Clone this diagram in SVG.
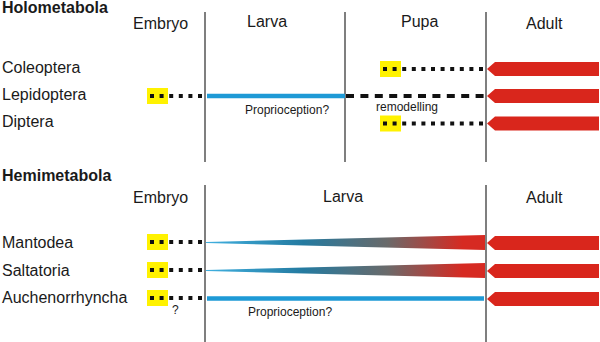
<svg xmlns="http://www.w3.org/2000/svg" width="600" height="342" viewBox="0 0 600 342">
<defs>
<style>
text{font-family:"Liberation Sans",Arial,sans-serif;fill:#1a1a1a}
.h{font-size:16px;font-weight:bold}
.t{font-size:16px}
.s{font-size:12px}
.div{stroke:#555;stroke-width:1.5}
.dot{stroke:#111;stroke-width:4;stroke-dasharray:4 5.6;fill:none}
.dash{stroke:#111;stroke-width:4;stroke-dasharray:8 6.4;fill:none}
.blue{stroke:#1e9ad6;stroke-width:4.5}
.box{fill:#fff200}
.arrow{fill:#d9261c}
</style>
<linearGradient id="wg" gradientUnits="userSpaceOnUse" x1="206" y1="0" x2="485" y2="0">
<stop offset="0" stop-color="#40b0e0"/>
<stop offset="0.35" stop-color="#247aa0"/>
<stop offset="0.65" stop-color="#6a6a6a"/>
<stop offset="0.92" stop-color="#d62a22"/>
</linearGradient>
</defs>
<rect width="600" height="342" fill="#fff"/>

<g id="headings">
<text class="h" x="2" y="13">Holometabola</text>
<text class="h" x="2" y="181">Hemimetabola</text>
<text class="t" x="133" y="29">Embryo</text>
<text class="t" x="247" y="27">Larva</text>
<text class="t" x="401" y="27">Pupa</text>
<text class="t" x="526" y="29">Adult</text>
<text class="t" x="133" y="203">Embryo</text>
<text class="t" x="323" y="202">Larva</text>
<text class="t" x="526" y="203">Adult</text>
</g>

<g id="dividers">
<line class="div" x1="205" y1="12" x2="205" y2="162"/>
<line class="div" x1="345" y1="12" x2="345" y2="162"/>
<line class="div" x1="486" y1="12" x2="486" y2="162"/>
<line class="div" x1="205" y1="185" x2="205" y2="342"/>
<line class="div" x1="486" y1="185" x2="486" y2="342"/>
</g>

<g id="coleoptera">
<text class="t" x="2" y="73">Coleoptera</text>
<rect class="box" x="380" y="61" width="21" height="16"/>
<polygon class="arrow" points="487,69 495,62 599,62 599,76 495,76"/>
</g>
<g id="lepidoptera">
<text class="t" x="2" y="100">Lepidoptera</text>
<rect class="box" x="147" y="88" width="21" height="16"/>
<polygon class="arrow" points="487,96 495,89 599,89 599,103 495,103"/>
<text class="s" x="245" y="114">Proprioception?</text>
<text class="s" x="376" y="111">remodelling</text>
</g>
<g id="diptera">
<text class="t" x="2" y="127">Diptera</text>
<rect class="box" x="380" y="115.5" width="21" height="16"/>
<polygon class="arrow" points="487,123.5 495,116.5 599,116.5 599,130.5 495,130.5"/>
</g>
<g id="mantodea">
<text class="t" x="2" y="248">Mantodea</text>
<rect class="box" x="147" y="234" width="21" height="16"/>
<polygon class="arrow" points="487,243 495,236 599,236 599,250 495,250"/>
</g>
<g id="saltatoria">
<text class="t" x="2" y="276">Saltatoria</text>
<rect class="box" x="147" y="262" width="21" height="16"/>
<polygon class="arrow" points="487,271 495,264 599,264 599,278 495,278"/>
</g>
<g id="auchenorrhyncha">
<text class="t" x="2" y="303">Auchenorrhyncha</text>
<rect class="box" x="147" y="290" width="21" height="16"/>
<polygon class="arrow" points="487,299 495,292 599,292 599,306 495,306"/>
<text class="s" x="172" y="314">?</text>
<text class="s" x="248" y="316">Proprioception?</text>
</g>

<g id="connectors">
<line class="dot" x1="383" y1="69" x2="484" y2="69"/>
<line class="dot" x1="150" y1="96" x2="204" y2="96"/>
<line class="blue" x1="207" y1="96" x2="345" y2="96"/>
<line class="dash" x1="346" y1="96" x2="484" y2="96"/>
<line class="dot" x1="383" y1="123.5" x2="484" y2="123.5"/>
<line class="dot" x1="150" y1="242" x2="204" y2="242"/>
<line class="dot" x1="150" y1="270" x2="204" y2="270"/>
<line class="dot" x1="150" y1="298" x2="204" y2="298"/>
<polygon fill="url(#wg)" points="206,242 485,235 485,250 206,243"/>
<polygon fill="url(#wg)" points="206,270 485,263 485,278 206,271"/>
<line class="blue" x1="207" y1="298.5" x2="484" y2="298.5"/>
</g>
</svg>
